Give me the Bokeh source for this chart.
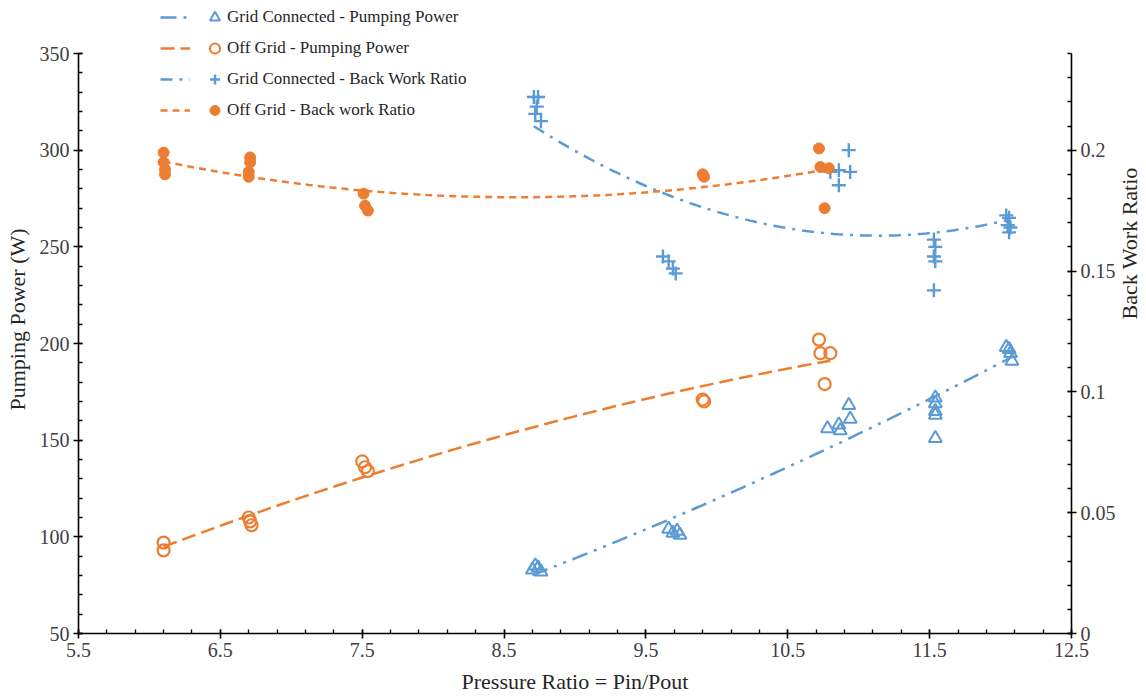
import numpy as np
from bokeh.plotting import figure
from bokeh.models import Range1d, LinearAxis, FixedTicker, Legend, LegendItem
from bokeh.embed import file_html
from bokeh.resources import INLINE

BLUE = "#5B9BD5"
ORANGE = "#ED7D31"
FONT = "Liberation Serif"

# ---------------- data ----------------
series_names = [
    "Grid Connected - Pumping Power",
    "Off Grid - Pumping Power",
    "Grid Connected - Back Work Ratio",
    "Off Grid - Back work Ratio",
]

grid_pp_x = [8.70, 8.72, 8.74, 8.76, 9.66, 9.69, 9.72, 9.74,
             10.78, 10.86, 10.87, 10.93, 10.94,
             11.54, 11.54, 11.54, 11.54, 11.54,
             12.04, 12.06, 12.07, 12.08]
grid_pp_y = [83, 85, 84, 82, 104, 102, 103, 101,
             156, 158, 155, 168, 161,
             172, 169, 165, 163, 151,
             198, 197, 195, 191]

off_pp_x = [6.10, 6.10, 6.70, 6.71, 6.72, 7.50, 7.52, 7.54,
            9.90, 9.91, 10.72, 10.73, 10.80, 10.76]
off_pp_y = [97, 93, 110, 108, 106, 139, 136, 134,
            171, 170, 202, 195, 195, 179]

grid_bwr_x = [8.71, 8.74, 8.73, 8.72, 8.76, 9.62, 9.66, 9.69, 9.71,
              10.80, 10.86, 10.86, 10.93, 10.94,
              11.53, 11.54, 11.53, 11.54, 11.53,
              12.04, 12.06, 12.05, 12.07, 12.06]
grid_bwr_y = [0.222, 0.222, 0.218, 0.215, 0.212, 0.156, 0.154, 0.151, 0.149,
              0.191, 0.1917, 0.1855, 0.200, 0.191,
              0.163, 0.160, 0.156, 0.154, 0.142,
              0.173, 0.172, 0.169, 0.168, 0.166]

off_bwr_x = [6.10, 6.10, 6.11, 6.11, 6.71, 6.71, 6.70, 6.70,
             7.51, 7.52, 7.54, 9.90, 9.91, 10.72, 10.73, 10.79, 10.76]
off_bwr_y = [0.199, 0.195, 0.192, 0.190, 0.197, 0.195, 0.191, 0.189,
             0.182, 0.177, 0.175, 0.190, 0.189, 0.2007, 0.193, 0.1925, 0.176]

x_ticks = [5.5, 6.5, 7.5, 8.5, 9.5, 10.5, 11.5, 12.5]
y_ticks = [50, 100, 150, 200, 250, 300, 350]
y2_ticks = [0, 0.05, 0.1, 0.15, 0.2]
y2_labels = ["0", "0.05", "0.1", "0.15", "0.2"]

Y_MIN, Y_MAX = 50, 350
Y2_MIN, Y2_MAX = 0, 0.24

# ---------------- layout ----------------
AXIS_H = 580          # pixel height of the drawn axes (50..350)
FRAME_H = 628         # frame extends above 350 to hold the legend
TOP = 5
y_top = Y_MIN + (Y_MAX - Y_MIN) * FRAME_H / AXIS_H
y2_top = Y2_MIN + (Y2_MAX - Y2_MIN) * FRAME_H / AXIS_H

p = figure(frame_width=993, frame_height=FRAME_H,
           x_range=Range1d(5.5, 12.5), y_range=Range1d(Y_MIN, y_top),
           output_backend="svg", toolbar_location=None,
           min_border_left=78, min_border_top=TOP, min_border_right=0,
           min_border_bottom=0, background_fill_color="white",
           border_fill_color="white")
p.extra_y_ranges = {"bwr": Range1d(Y2_MIN, y2_top)}
p.outline_line_color = None
p.xgrid.visible = False
p.ygrid.visible = False


def style(ax):
    ax.axis_line_color = "black"
    ax.axis_line_width = 1.6
    ax.major_tick_line_color = "black"
    ax.major_tick_line_width = 1.6
    ax.minor_tick_line_color = "black"
    ax.minor_tick_line_width = 1.3
    ax.major_tick_in = 4
    ax.major_tick_out = 5
    ax.minor_tick_in = 4
    ax.minor_tick_out = 0
    ax.major_label_text_font = FONT
    ax.major_label_text_font_size = "20px"
    ax.major_label_text_color = "#404040"
    ax.major_label_standoff = 4
    ax.axis_label_text_font = FONT
    ax.axis_label_text_font_size = "22px"
    ax.axis_label_text_font_style = "normal"
    ax.axis_label_text_color = "#262626"
    ax.axis_label_standoff = 4


xa = p.xaxis[0]
xa.axis_label = "Pressure Ratio = Pin/Pout"
xa.ticker = FixedTicker(ticks=x_ticks, minor_ticks=list(np.round(np.arange(5.5, 12.51, 0.2), 2)))
style(xa)
xa.axis_label_standoff = 9

ya = p.yaxis[0]
ya.axis_label = "Pumping Power (W)"
ya.ticker = FixedTicker(ticks=y_ticks, minor_ticks=list(range(50, 351, 10)))
ya.bounds = (Y_MIN, Y_MAX)
style(ya)
ya.axis_label_standoff = 7

ra = LinearAxis(y_range_name="bwr", axis_label="Back Work Ratio")
ra.ticker = FixedTicker(ticks=y2_ticks, minor_ticks=list(np.round(np.arange(0, 0.241, 0.01), 2)))
ra.major_label_overrides = {t: l for t, l in zip(y2_ticks, y2_labels)}
ra.bounds = (Y2_MIN, Y2_MAX)
style(ra)
ra.axis_label_standoff = 11
if "axis_label_orientation" in ra.properties():
    ra.axis_label_orientation = float(np.pi / 2)
p.add_layout(ra, "right")


def trend(xs, ys):
    c = np.polyfit(xs, ys, 2)
    xx = np.linspace(min(xs), max(xs), 120)
    return xx, np.polyval(c, xx)


# markers
s1 = p.scatter(grid_pp_x, grid_pp_y, marker="triangle", size=13, fill_alpha=0,
               line_color=BLUE, line_width=2)
s2 = p.scatter(off_pp_x, off_pp_y, marker="circle", size=12, fill_alpha=0,
               line_color=ORANGE, line_width=2.2)
s3 = p.scatter(grid_bwr_x, grid_bwr_y, marker="cross", size=14, line_color=BLUE,
               line_width=2.4, y_range_name="bwr")
s4 = p.scatter(off_bwr_x, off_bwr_y, marker="circle", size=11, fill_color=ORANGE,
               line_color=ORANGE, y_range_name="bwr")

# trendlines (2nd-order polynomial fits of the series)
tx, ty = trend(grid_pp_x, grid_pp_y)
l1 = p.line(tx, ty, line_color=BLUE, line_width=2.5, line_dash="16 7 3 7 3 7")
tx, ty = trend(off_pp_x, off_pp_y)
l2 = p.line(tx, ty, line_color=ORANGE, line_width=2.5, line_dash="14 6")
tx, ty = trend(grid_bwr_x, grid_bwr_y)
l3 = p.line(tx, ty, line_color=BLUE, line_width=2.5, line_dash="12 7 3 7", y_range_name="bwr")
tx, ty = trend(off_bwr_x, off_bwr_y)
l4 = p.line(tx, ty, line_color=ORANGE, line_width=2.5, line_dash="7 5", y_range_name="bwr")

common = dict(glyph_height=26, label_height=26, spacing=5, padding=0, margin=0,
              border_line_color=None, background_fill_alpha=0,
              label_text_font=FONT, label_text_font_size="17px",
              label_text_color="#262626", orientation="vertical")

LEG_Y = FRAME_H - 118   # legend box bottom, measured from frame bottom
leg_lines = Legend(items=[LegendItem(label=" ", renderers=[r]) for r in [l1, l2, l3, l4]],
                   location=(82, LEG_Y), glyph_width=30, label_standoff=0, **common)
leg_marks = Legend(items=[LegendItem(label=n, renderers=[r])
                          for n, r in zip(series_names, [s1, s2, s3, s4])],
                   location=(124, LEG_Y), glyph_width=25, label_standoff=0, **common)
p.add_layout(leg_lines)
p.add_layout(leg_marks)

open("out.html", "w").write(file_html(p, INLINE))
